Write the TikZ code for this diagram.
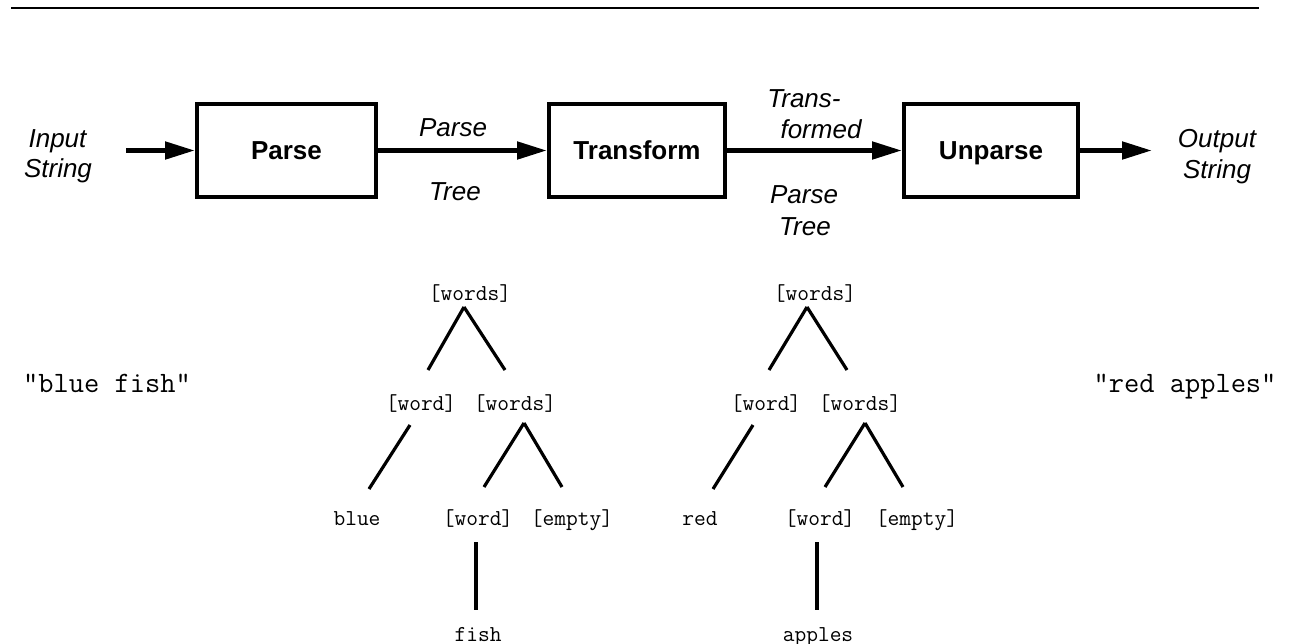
\documentclass[tikz,border=0pt]{standalone}
\usepackage{fontspec}
\setsansfont{Liberation Sans}
\usepackage{tikz}
\usetikzlibrary{arrows.meta,calc}
\newcommand{\labfont}{\sffamily\fontsize{13}{15.5}\selectfont}
\tikzset{
  stage/.style = {draw, line width=2pt, minimum width=88pt, minimum height=46.5pt,
                  font=\labfont\bfseries, text height=9.3pt, text depth=0pt, inner sep=0pt},
  flow/.style  = {-{Triangle[length=15pt,width=8.5pt]}, line width=2.5pt},
  lbl/.style   = {font=\labfont\itshape, anchor=base, inner sep=0pt},
  tok/.style   = {font=\ttfamily\fontsize{11.4}{13}\selectfont, anchor=base, inner sep=0pt},
  str/.style   = {font=\ttfamily\fontsize{14.8}{17}\selectfont, anchor=base, inner sep=0pt},
  br/.style    = {line width=1.6pt},
}
\begin{document}
\begin{tikzpicture}[x=0.5pt, y=-0.5pt]
  \useasboundingbox (0,0) rectangle (1299,643);
  \draw[line width=1pt] (11,7.5) -- (1259,7.5);

  \node[stage, minimum width=89.5pt] (pa) at (286.5,150.5) {Parse};
  \node[stage] (tr) at (637,150.5) {Transform};
  \node[stage, minimum width=87pt] (un) at (991,150.5) {Unparse};
  \coordinate (inp) at (126,150.5);
  \coordinate (outp) at (1152,150.5);
  \draw[flow] (inp) -- (pa.west);
  \draw[flow] (pa.east) -- (tr.west);
  \draw[flow] (tr.east) -- (un.west);
  \draw[flow] (un.east) -- (outp);

  \node[lbl] (in1) at (57.5,147) {Input};
  \node[lbl] (in2) at (58,177) {String};
  \node[lbl] (pt1) at (453,136) {Parse};
  \node[lbl] (pt2) at (455,200) {Tree};
  \node[lbl] (tf1) at (804,107) {Trans-};
  \node[lbl] (tf2) at (821,138) {formed};
  \node[lbl] (tf3) at (804,203) {Parse};
  \node[lbl] (tf4) at (805,235) {Tree};
  \node[lbl] (out1) at (1217,147) {Output};
  \node[lbl] (out2) at (1217,178) {String};

  \node[str] (src) at (107,392) {"blue fish"};
  \node[str] (dst) at (1185,392) {"red apples"};

  \node[tok] (t1root)  at (470,300) {[words]};
  \node[tok] (t1word)  at (421,410) {[word]};
  \node[tok] (t1words) at (515,410) {[words]};
  \node[tok] (t1blue)  at (357,525) {blue};
  \node[tok] (t1word2) at (478,525) {[word]};
  \node[tok] (t1empty) at (572,525) {[empty]};
  \node[tok] (t1fish)  at (478,641) {fish};
  \draw[br] ($(t1root.base)+(-6,7)$) -- ($(t1word.base)+(7,-40)$);
  \draw[br] ($(t1root.base)+(-6,7)$) -- ($(t1words.base)+(-10,-40)$);
  \draw[br] ($(t1word.base)+(-11,15)$) -- ($(t1blue.base)+(12,-36)$);
  \draw[br] ($(t1words.base)+(9,13)$) -- ($(t1word2.base)+(6,-38)$);
  \draw[br] ($(t1words.base)+(9,13)$) -- ($(t1empty.base)+(-10,-38)$);
  \draw[br] ($(t1word2.base)+(-2,17)$) -- ($(t1fish.base)+(-2,-31)$);

  \node[tok] (t2root)  at (815,300) {[words]};
  \node[tok] (t2word)  at (766,410) {[word]};
  \node[tok] (t2words) at (860,410) {[words]};
  \node[tok] (t2red)   at (700,525) {red};
  \node[tok] (t2word2) at (820,525) {[word]};
  \node[tok] (t2empty) at (917,525) {[empty]};
  \node[tok] (t2apples) at (818,641) {apples};
  \draw[br] ($(t2root.base)+(-8,7)$) -- ($(t2word.base)+(3,-40)$);
  \draw[br] ($(t2root.base)+(-8,7)$) -- ($(t2words.base)+(-13,-40)$);
  \draw[br] ($(t2word.base)+(-13,15)$) -- ($(t2red.base)+(13,-36)$);
  \draw[br] ($(t2words.base)+(5,13)$) -- ($(t2word2.base)+(5,-38)$);
  \draw[br] ($(t2words.base)+(5,13)$) -- ($(t2empty.base)+(-14,-38)$);
  \draw[br] ($(t2word2.base)+(-3,17)$) -- ($(t2apples.base)+(-1,-31)$);
\end{tikzpicture}
\end{document}
